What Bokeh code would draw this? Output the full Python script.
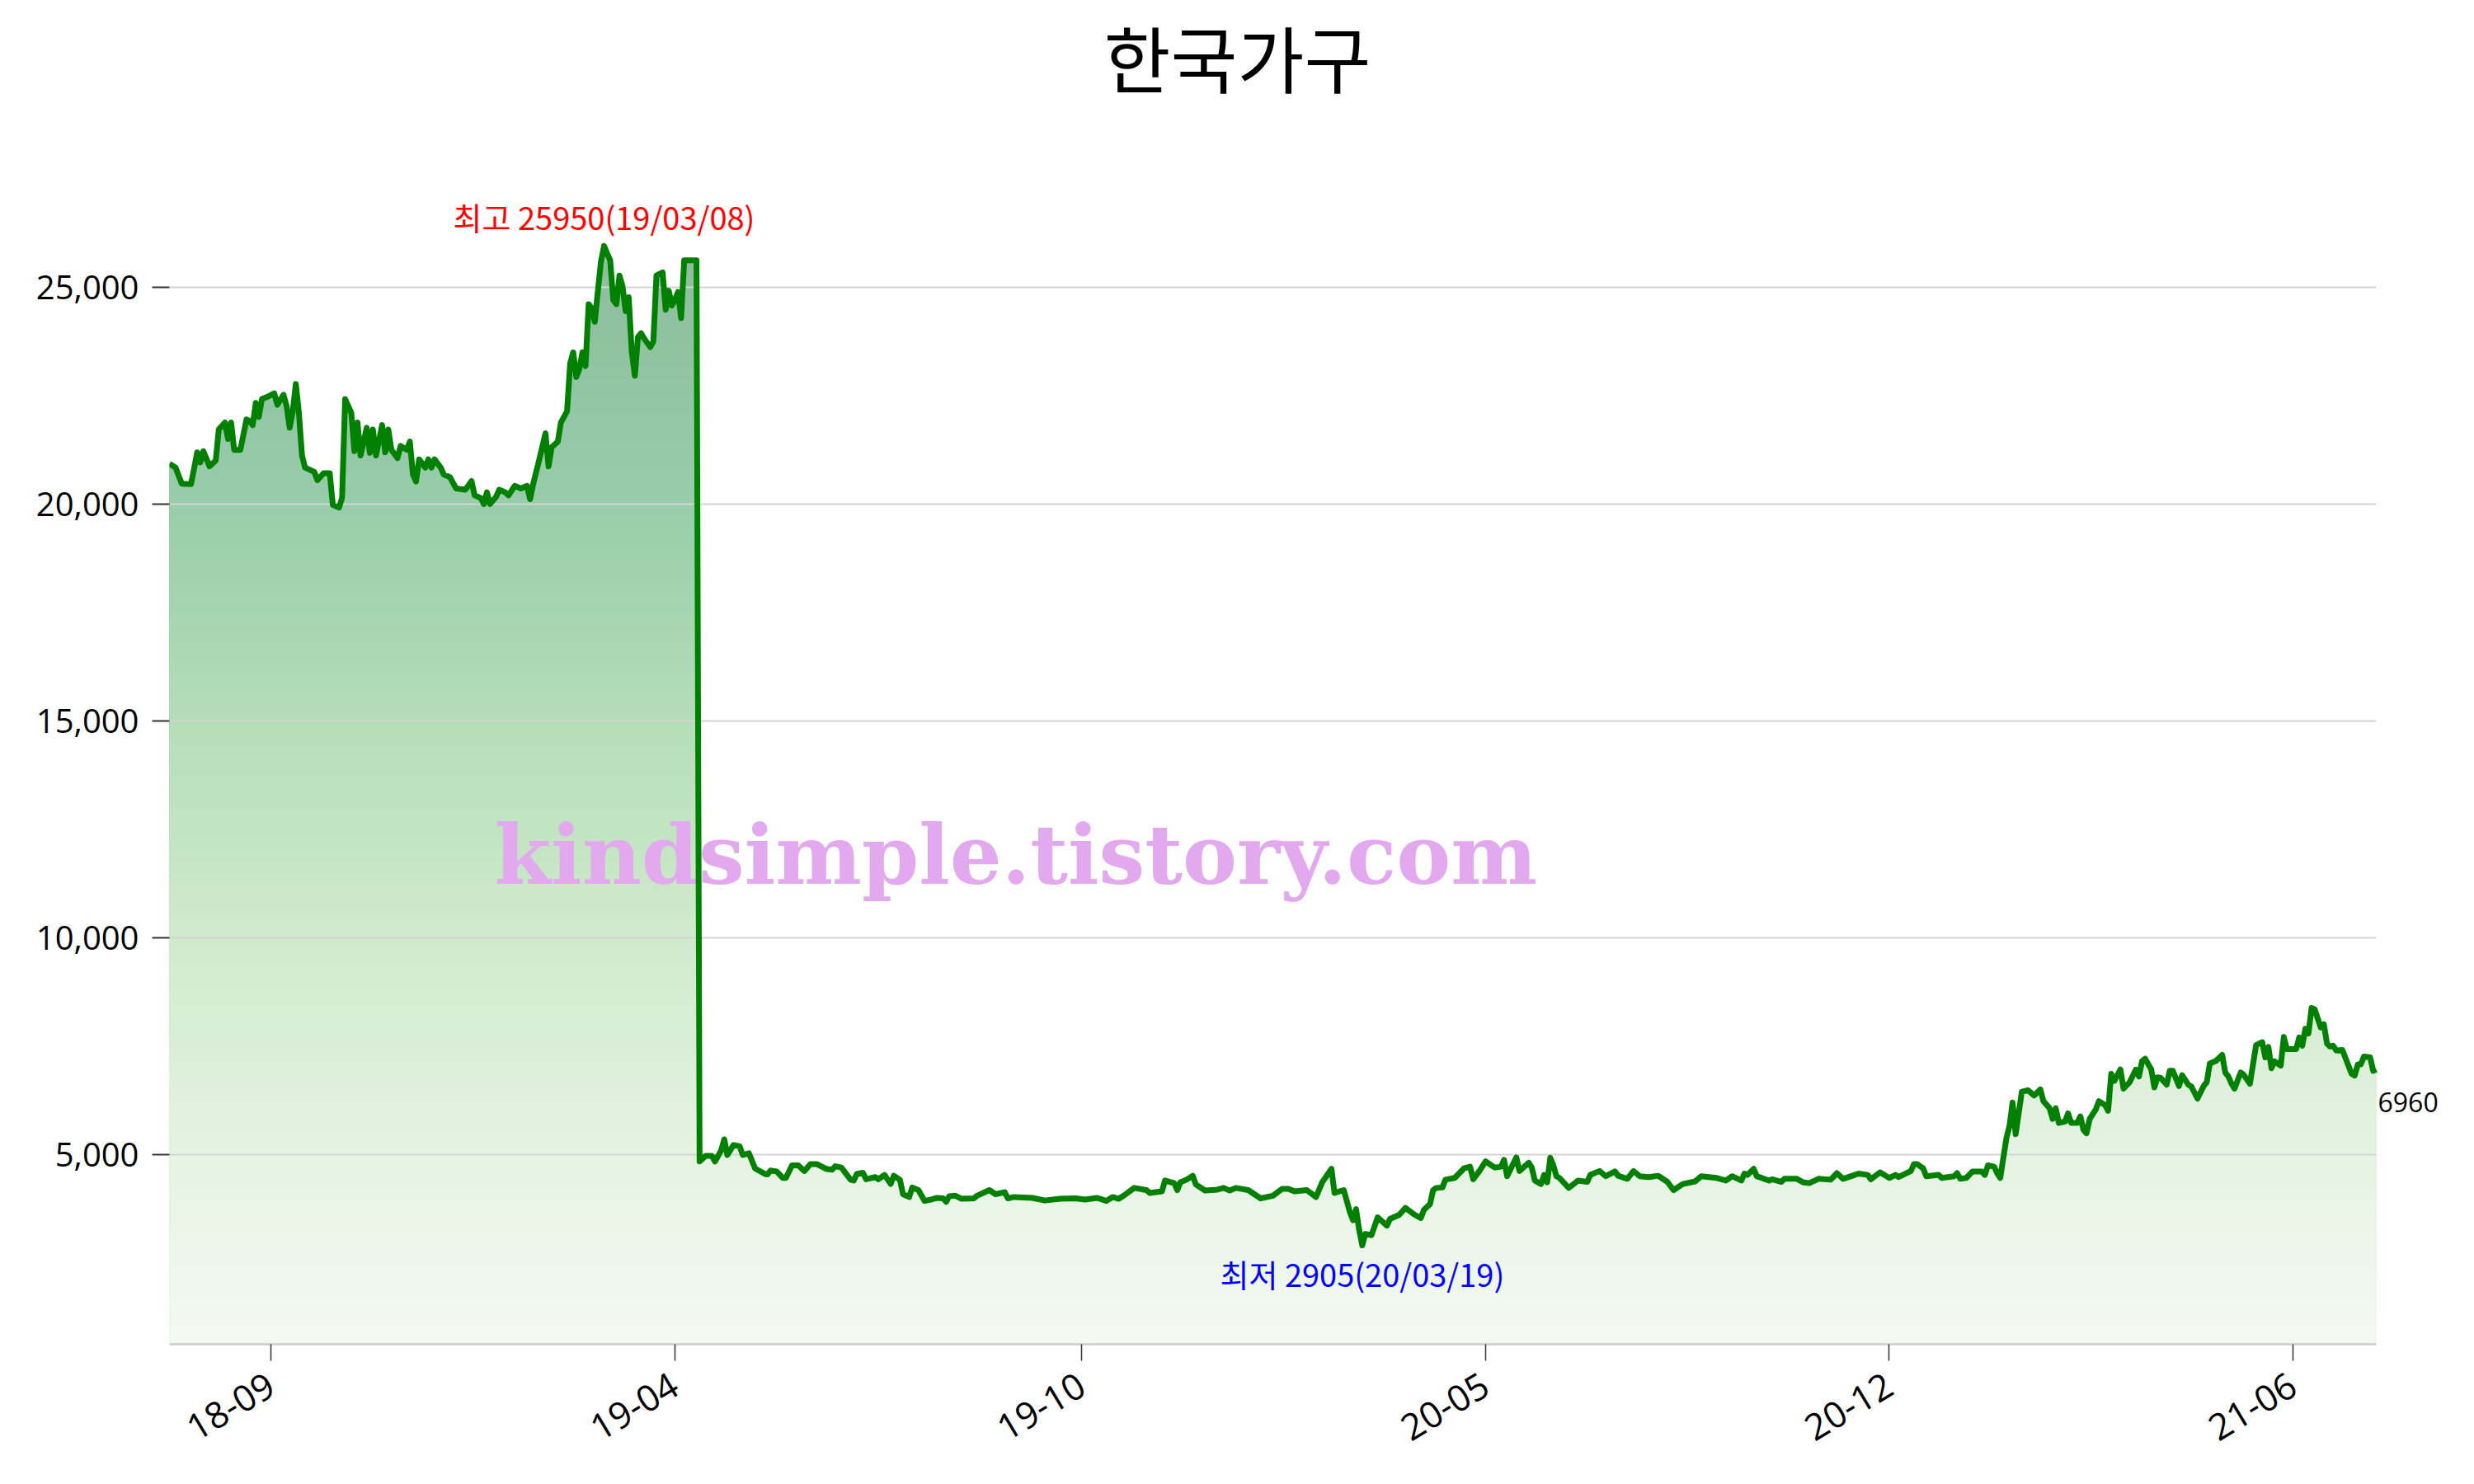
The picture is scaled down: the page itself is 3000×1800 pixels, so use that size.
import math
import numpy as np
from bokeh.plotting import figure
from bokeh.models import Range1d, FixedTicker, NumeralTickFormatter, Label
from bokeh.embed import file_html
from bokeh.resources import INLINE

# ---------------- data (trading-day index, closing price) ----------------
title_text = "한국가구"

pre_split = [
    (0, 20930), (2, 20840), (3, 20650), (4, 20470), (7, 20460), (9, 21190), (10, 20960), (11, 21220), (13, 20870), (15, 21000),
    (16, 21720), (18, 21880), (19, 21500), (20, 21880), (21, 21250), (23, 21250), (25, 21950), (26, 21910), (27, 21820), (28, 22330),
    (29, 22010), (30, 22420), (32, 22480), (34, 22550), (35, 22290), (37, 22520), (38, 22260), (39, 21760), (40, 22140), (41, 22770),
    (42, 22100), (43, 21120), (44, 20840), (47, 20740), (48, 20550), (50, 20710), (52, 20710), (53, 19980), (55, 19920), (56, 20140),
    (57, 22420), (59, 22100), (60, 21220), (61, 21880), (62, 21120), (64, 21760), (65, 21180), (66, 21720), (67, 21120), (69, 21820),
    (70, 21190), (71, 21720), (72, 21250), (74, 21060), (75, 21340), (77, 21250), (78, 21440), (79, 20680), (80, 20520), (81, 21030),
    (83, 20840), (84, 21030), (85, 20840), (86, 21030), (88, 20840), (89, 20680), (91, 20620), (93, 20360), (96, 20330), (98, 20530),
    (99, 20200), (101, 20140), (102, 20000), (103, 20270), (104, 20000), (106, 20170), (107, 20330), (109, 20270), (110, 20200), (112, 20420),
    (114, 20360), (116, 20420), (117, 20110), (118, 20460), (120, 21030), (122, 21630), (123, 20870), (124, 21310), (126, 21440), (127, 21880),
    (129, 22140), (130, 23240), (131, 23500), (132, 22930), (133, 23120), (134, 23500), (135, 23180), (136, 24610), (137, 24510), (138, 24200),
    (139, 24920), (140, 25590), (141, 25950), (142, 25780), (143, 25620), (144, 24700), (145, 24610), (146, 25270), (147, 25020), (148, 24450),
    (149, 24770), (150, 23500), (151, 22960), (152, 23850), (153, 23940), (154, 23820), (156, 23620), (157, 23750), (158, 25270), (160, 25340),
    (161, 24480), (162, 24920), (163, 24580), (164, 24710), (165, 24890), (166, 24290), (167, 25620), (171, 25620),
]

after_split_2019 = [
    (172, 4840), (174, 4970), (176, 4970), (177, 4840), (179, 5095), (180, 5350), (181, 4990), (183, 5220), (185, 5190), (186, 4990),
    (188, 5030), (190, 4680), (193, 4560), (194, 4540), (195, 4630), (197, 4610), (199, 4460), (200, 4460), (202, 4750), (204, 4750),
    (206, 4620), (208, 4780), (210, 4780), (213, 4670), (215, 4650), (216, 4730), (218, 4700), (221, 4420), (222, 4400), (223, 4550),
    (225, 4580), (226, 4430), (229, 4480), (230, 4430), (232, 4530), (234, 4320), (235, 4510), (237, 4420), (238, 4085), (240, 4020),
    (241, 4240), (243, 4180), (245, 3930), (247, 3960), (249, 4000), (251, 3990), (252, 3910), (253, 4040), (255, 4050), (257, 3980),
    (261, 3990), (262, 4050), (266, 4180), (268, 4085), (271, 4130), (272, 3990), (274, 4020), (280, 4000), (284, 3940), (289, 3980),
    (294, 3990), (297, 3960), (301, 4000), (304, 3930), (306, 4020),
]

around_2020_low = [
    (308, 3980), (310, 4070), (313, 4230), (317, 4180), (318, 4115), (322, 4150), (323, 4400), (326, 4340), (327, 4180), (328, 4360),
    (330, 4420), (332, 4510), (333, 4310), (336, 4170), (340, 4190), (342, 4230), (344, 4170), (346, 4230), (350, 4180), (352, 4085),
    (354, 3990), (358, 4050), (361, 4210), (363, 4210), (365, 4150), (369, 4180), (372, 4020), (374, 4360), (375, 4460), (377, 4670),
    (378, 4115), (381, 4180), (383, 3670), (384, 3485), (385, 3740), (386, 3260), (387, 2905), (388, 3170), (390, 3140), (392, 3550),
    (395, 3360), (396, 3515), (399, 3610), (401, 3770), (404, 3610), (406, 3535), (407, 3725), (409, 3860), (410, 4180), (411, 4230),
    (413, 4240), (414, 4420), (417, 4460), (420, 4680), (422, 4720), (423, 4430), (425, 4620), (427, 4840), (430, 4700), (432, 4720),
    (433, 4875), (434, 4500), (437, 4935), (438, 4620), (441, 4810), (442, 4700), (443, 4400),
]

late_2020 = [
    (445, 4320), (446, 4530), (447, 4360), (448, 4925), (449, 4750), (450, 4500), (451, 4460), (454, 4230), (457, 4400), (460, 4370),
    (461, 4530), (464, 4620), (466, 4500), (469, 4610), (470, 4510), (473, 4440), (475, 4620), (477, 4500), (480, 4480), (483, 4510),
    (486, 4370), (488, 4180), (491, 4320), (495, 4380), (497, 4500), (502, 4460), (505, 4400), (507, 4500), (510, 4400), (511, 4560),
    (512, 4530), (514, 4670), (515, 4500), (519, 4400), (520, 4430), (523, 4370), (524, 4440), (528, 4440), (530, 4360), (532, 4340),
    (535, 4440), (539, 4420), (541, 4570), (543, 4440), (546, 4510), (548, 4560), (551, 4530), (552, 4430), (555, 4590), (558, 4460),
    (560, 4530), (561, 4480), (565, 4620), (566, 4780), (567, 4780), (569, 4680), (570, 4500), (574, 4530), (575, 4460), (579, 4500),
]

year_2021 = [
    (580, 4570), (581, 4440), (583, 4460), (585, 4610), (588, 4610), (589, 4530), (590, 4750), (592, 4720), (593, 4570), (594, 4460),
    (596, 5380), (597, 5660), (598, 6200), (599, 5470), (601, 6450), (603, 6480), (605, 6360), (607, 6500), (608, 6230), (610, 6070),
    (611, 5820), (612, 6070), (613, 5730), (615, 5760), (616, 5950), (617, 5730), (619, 5730), (620, 5880), (621, 5570), (622, 5490),
    (623, 5820), (625, 6040), (626, 6230), (628, 6140), (629, 6010), (630, 6860), (631, 6700), (633, 6960), (634, 6520), (636, 6670),
    (638, 6960), (639, 6800), (640, 7150), (641, 7210), (643, 6960), (644, 6550), (645, 6780), (646, 6770), (648, 6610), (649, 6930),
    (650, 6930), (652, 6580), (653, 6830), (655, 6610), (656, 6570), (658, 6290), (660, 6580), (661, 6670), (662, 7100), (664, 7160),
    (666, 7300), (667, 6890), (668, 6800), (669, 6640), (670, 6520), (672, 6890), (673, 6840), (675, 6630), (677, 7520), (678, 7560),
    (679, 7590), (680, 7240), (681, 7480), (682, 6990), (683, 7150), (685, 7050), (686, 7710), (687, 7430), (690, 7430), (691, 7700),
    (692, 7510), (693, 7900), (694, 7790), (695, 8380), (696, 8350), (698, 7930), (699, 8000), (700, 7560), (701, 7490), (702, 7510),
    (703, 7400), (705, 7410), (708, 6860), (709, 6820), (710, 7080), (711, 7080), (712, 7260), (714, 7240), (715, 6930), (716, 6960),
]

tick_idx = [33, 164, 296, 427, 558, 689]
tick_labels = ["18-09", "19-04", "19-10", "20-05", "20-12", "21-06"]
y_ticks = [5000, 10000, 15000, 20000, 25000]

max_text = "최고 25950(19/03/08)"
min_text = "최저 2905(20/03/19)"
watermark_text = "kindsimple.tistory.com"

# ---------------- assemble ----------------
series = pre_split + after_split_2019 + around_2020_low + late_2020 + year_2021
idx = np.array([s[0] for s in series], dtype=float)
close = np.array([s[1] for s in series], dtype=float)

# layout (pixels)
FRAME_LEFT = 205          # data starts here
DATA_W = 2676             # pixel width taken by the data span
FRAME_W = 2787            # frame runs to the right page edge (room for the last-value label)
FRAME_H = 1630            # frame from the page top down to the x axis
PX_PER_UNIT = 0.0526      # vertical pixels per won

Y0 = 625
Y1 = Y0 + FRAME_H / PX_PER_UNIT
X0 = idx[0]
X1 = idx[0] + (idx[-1] - idx[0]) * FRAME_W / DATA_W

p = figure(frame_width=FRAME_W, frame_height=FRAME_H,
           x_range=Range1d(X0, X1), y_range=Range1d(Y0, Y1),
           output_backend="svg", toolbar_location=None,
           min_border_left=FRAME_LEFT, min_border_right=0,
           min_border_top=0, min_border_bottom=162)
p.outline_line_color = None
p.background_fill_color = "white"
p.border_fill_color = "white"
p.title.visible = False

# ---- gradient area fill built from stacked bands ----
stop_v = [Y0, 5000, 10000, 15000, 20000, 25000, 28250, Y1]
stop_c = [(244, 249, 242), (229, 243, 226), (208, 234, 205), (180, 222, 183),
          (152, 204, 170), (142, 191, 158), (137, 184, 152), (137, 184, 152)]

def grad(v):
    r = np.interp(v, stop_v, [c[0] for c in stop_c])
    g = np.interp(v, stop_v, [c[1] for c in stop_c])
    b = np.interp(v, stop_v, [c[2] for c in stop_c])
    return "#%02x%02x%02x" % (int(round(r)), int(round(g)), int(round(b)))

top = close.max()
nb = 100
step = (top - Y0) / nb
for k in range(nb):
    hi = top - k * step
    p.varea(x=idx, y1=np.full_like(close, Y0), y2=np.minimum(close, hi),
            fill_color=grad(hi - step / 2), fill_alpha=1.0, level="image")

# ---- horizontal grid lines, only across the data span ----
p.xgrid.grid_line_color = None
p.ygrid.grid_line_color = None
p.segment(x0=[idx[0]] * len(y_ticks), x1=[idx[-1]] * len(y_ticks), y0=y_ticks, y1=y_ticks,
          line_color="#d3d3d3", line_width=2, level="underlay")

# ---- watermark ----
wm = Label(x=394, y=594, x_units="screen", y_units="screen", text=watermark_text,
           text_font="DejaVu Serif", text_font_style="bold", text_font_size="99px",
           text_color="#e3a9ef", text_align="left", text_baseline="alphabetic",
           level="underlay")
p.add_layout(wm)

# ---- price line ----
p.line(idx, close, line_color="#008000", line_width=7, line_join="round")

# ---- axes ----
p.yaxis.ticker = FixedTicker(ticks=y_ticks)
p.yaxis.formatter = NumeralTickFormatter(format="0,0")
p.yaxis.axis_line_color = None
p.yaxis.major_tick_out = 21
p.yaxis.major_tick_in = 0
p.yaxis.major_tick_line_color = "#333333"
p.yaxis.major_tick_line_width = 2
p.yaxis.minor_tick_line_color = None
p.yaxis.major_label_text_font = "Open Sans"
p.yaxis.major_label_text_font_size = "40px"
p.yaxis.major_label_text_color = "#000000"
p.yaxis.major_label_standoff = 16

p.xaxis.ticker = FixedTicker(ticks=tick_idx)
p.xaxis.bounds = (idx[0], idx[-1])
p.xaxis.major_label_overrides = {t: l for t, l in zip(tick_idx, tick_labels)}
p.xaxis.major_label_orientation = math.radians(31)
p.xaxis.axis_line_color = "#d3d3d3"
p.xaxis.axis_line_width = 3
p.xaxis.major_tick_out = 20
p.xaxis.major_tick_in = 0
p.xaxis.major_tick_line_color = "#333333"
p.xaxis.major_tick_line_width = 1.5
p.xaxis.minor_tick_line_color = None
p.xaxis.major_label_text_font = "Open Sans"
p.xaxis.major_label_text_font_size = "44px"
p.xaxis.major_label_text_color = "#000000"
p.xaxis.major_label_standoff = 26

# ---- annotations ----
i_max = int(np.argmax(close))
i_min = int(np.argmin(close))

p.add_layout(Label(x=idx[i_max], y=close[i_max], text=max_text, text_color="#ff0000",
                   text_font="Noto Sans CJK KR", text_font_size="38px",
                   text_align="center", text_baseline="alphabetic", y_offset=36))
p.add_layout(Label(x=idx[i_min], y=close[i_min], text=min_text, text_color="#0000ff",
                   text_font="Noto Sans CJK KR", text_font_size="38px",
                   text_align="center", text_baseline="top", y_offset=-6))
p.add_layout(Label(x=idx[-1], y=close[-1], text="%d" % close[-1], text_color="#000000",
                   text_font="Open Sans", text_font_size="32px",
                   text_align="left", text_baseline="middle", x_offset=2, y_offset=-40))

# ---- title (centered on the page) ----
p.add_layout(Label(x=1295, y=1563, x_units="screen", y_units="screen", text=title_text,
                   text_font="Noto Sans CJK KR", text_font_size="88px", text_color="#000000",
                   text_align="center", text_baseline="middle"))

open("out.html", "w").write(file_html(p, INLINE))
